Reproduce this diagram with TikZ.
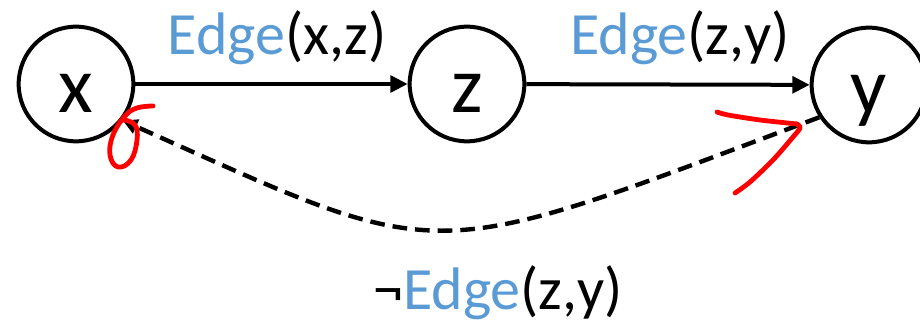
\documentclass[tikz,border=0pt]{standalone}
\usepackage{fontspec}
\setmainfont{Carlito}
\usepackage{xcolor}
\usepackage{tikz}
\usetikzlibrary{arrows.meta}

\definecolor{edgeblue}{HTML}{5B9BD5}

\begin{document}
\begin{tikzpicture}[x=0.75pt, y=-0.75pt,
    vertex/.style={draw, circle, line width=3pt, minimum size=86pt, inner sep=0pt,
                   font=\fontsize{60}{60}\selectfont, text height=48pt, text depth=4.5pt},
    edgelabel/.style={anchor=base, font=\fontsize{45}{45}\selectfont},
    scribble/.style={red, line width=3.6pt, line cap=round, line join=round}]
        \useasboundingbox (0,0) rectangle (920,323);

        % Vertices
        \node[vertex] (x) at (76,84) {x};
        \node[vertex] (z) at (467,84) {z};
        \node[vertex] (y) at (869,85) {y};

        % Edges
        \draw[line width=3pt, -{Triangle[length=13pt,width=12.5pt]}] (x) -- (z);
        \draw[line width=3pt, -{Triangle[length=13pt,width=12.5pt]}] (z) -- (y);
        \draw[line width=3.3pt, dash pattern=on 11pt off 6pt, -{Triangle[length=11pt,width=11pt]}]
            (y.213) .. controls (420,267) and (450,267) .. (x.-38);

        % Labels
        \node[edgelabel] (lxz) at (277,55) {\textcolor{edgeblue}{Edge}(x,z)};
        \node[edgelabel] (lzy) at (680,55) {\textcolor{edgeblue}{Edge}(z,y)};
        \node[edgelabel] (lnot) at (498,310) {¬\textcolor{edgeblue}{Edge}(z,y)};

        % Red marks
        \draw[scribble] plot[smooth, tension=0.7] coordinates {(153,106) (137,108) (125,116) (113,135) (110,155) (118,167) (131,160) (137,140) (135,125) (124,120)};
        \draw[scribble] plot[smooth, tension=0.5] coordinates {(717,112) (728,115) (760,120) (797,124)};
        \draw[scribble] plot[smooth, tension=0.5] coordinates {(797,124) (800,128) (793,137) (773,160) (750,182) (735,193)};
      \end{tikzpicture}
\end{document}
